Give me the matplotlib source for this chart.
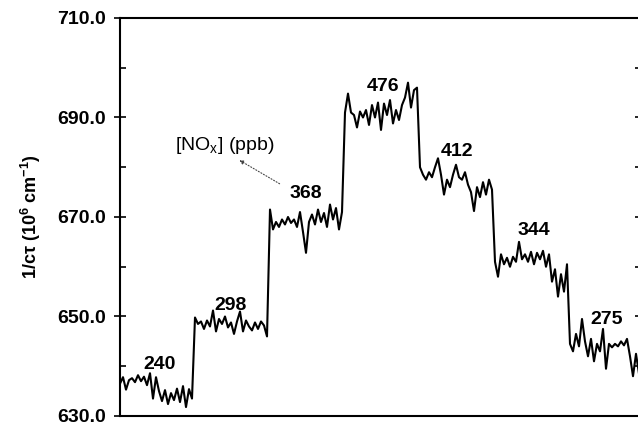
import numpy as np
import matplotlib
matplotlib.use('Agg')
from matplotlib import pyplot as plt
from matplotlib.ticker import FixedLocator, FormatStrFormatter

plt.rcParams['font.family'] = ['Liberation Sans', 'DejaVu Sans']
plt.rcParams['mathtext.default'] = 'regular'

# [NOx] levels (ppb) in order of the steps
nox_levels = ['240', '298', '368', '476', '412', '344', '275']

# 1/c-tau (10^6 cm^-1), one list per step
seg_240 = [636.5, 637.8, 635.3, 637.2, 637.6, 636.8, 638.2, 637.0, 637.9, 636.2,
           638.6, 633.5, 637.8, 635.0, 633.0, 635.2, 632.4, 634.6, 633.2, 635.5,
           632.8, 636.0, 631.8, 635.4, 633.5]
seg_298 = [649.8, 648.5, 649.0, 647.5, 649.2, 648.0, 651.2, 647.0, 649.5, 648.5,
           650.0, 647.8, 648.8, 646.5, 649.0, 651.0, 647.0, 649.2, 648.0, 647.2,
           648.8, 647.5, 649.0, 648.2, 646.0]
seg_368 = [671.5, 667.5, 669.0, 668.0, 669.5, 668.5, 670.0, 668.8, 669.5, 668.0,
           671.0, 667.0, 662.8, 669.0, 670.5, 668.5, 671.5, 669.0, 670.8, 668.0,
           672.5, 669.5, 671.8, 667.5, 671.0]
seg_476 = [691.0, 694.8, 691.0, 690.5, 688.0, 691.2, 690.0, 691.5, 688.5, 692.5,
           690.0, 693.0, 687.5, 692.8, 690.5, 693.5, 688.8, 691.5, 689.5, 692.5,
           694.0, 697.0, 692.0, 695.5, 696.0]
seg_412 = [680.0, 678.5, 677.5, 679.0, 678.0, 680.0, 681.8, 678.5, 674.5, 677.5,
           676.0, 678.5, 680.5, 678.0, 677.5, 679.0, 676.5, 675.0, 671.2, 676.0,
           674.0, 677.0, 674.5, 677.5, 675.5]
seg_344 = [661.0, 658.0, 662.5, 660.5, 661.8, 660.0, 662.0, 661.0, 665.0, 661.5,
           662.5, 661.0, 663.0, 660.5, 662.8, 661.5, 663.2, 660.0, 662.5, 657.0,
           659.5, 654.0, 658.5, 655.0, 660.5]
seg_275 = [644.5, 643.0, 646.5, 644.0, 649.5, 645.0, 642.0, 645.5, 641.0, 644.5,
           643.0, 647.5, 639.5, 644.5, 643.8, 644.5, 644.0, 645.0, 644.2, 645.5,
           642.0, 638.0, 642.5, 638.5]

# label anchor (sample index, value) for each step
label_x = [13.3, 37.0, 62.0, 87.7, 112.3, 138.0, 162.3]
label_y = [640.4, 652.2, 674.7, 696.2, 683.2, 667.3, 649.4]

major_ticks = [630, 650, 670, 690, 710]
minor_ticks = [640, 660, 680, 700]

signal = np.concatenate([seg_240, seg_298, seg_368, seg_476,
                         seg_412, seg_344, seg_275])
t = np.arange(len(signal))

fig = plt.figure(figsize=(6.38, 4.28), dpi=100)
ax = fig.add_axes([120/638, 12/428, 521/638, 398/428])

ax.plot(t, signal, color='black', lw=1.5)

for lab, x, y in zip(nox_levels, label_x, label_y):
    ax.text(x, y, lab, ha='center', va='center', fontsize=14, fontweight='bold')

ax.text(35, 684.3, '[NO$_x$] (ppb)', ha='center', va='center', fontsize=14)
ax.annotate('', xy=(39, 681.7), xytext=(54, 676.4),
            arrowprops=dict(arrowstyle='-|>', ls=':', lw=0.8, color='#444444',
                            mutation_scale=6))

ax.set_xlim(0, 521/3)
ax.set_ylim(630, 710)
ax.set_xticks([])
ax.yaxis.set_major_locator(FixedLocator(major_ticks))
ax.yaxis.set_minor_locator(FixedLocator(minor_ticks))
ax.yaxis.set_major_formatter(FormatStrFormatter('%.1f'))
ax.tick_params(axis='y', which='major', direction='inout', length=8, width=1.2,
               labelsize=14, pad=6, right=True)
ax.tick_params(axis='y', which='minor', direction='in', length=4, width=1.2,
               right=True)
for lab in ax.get_yticklabels():
    lab.set_fontweight('bold')
for s in ax.spines.values():
    s.set_linewidth(1.5)

ax.set_ylabel('1/c\u03c4 (10$^6$ cm$^{-1}$)', fontsize=13, fontweight='bold',
              labelpad=10)

fig.savefig('out.png', dpi=100)
